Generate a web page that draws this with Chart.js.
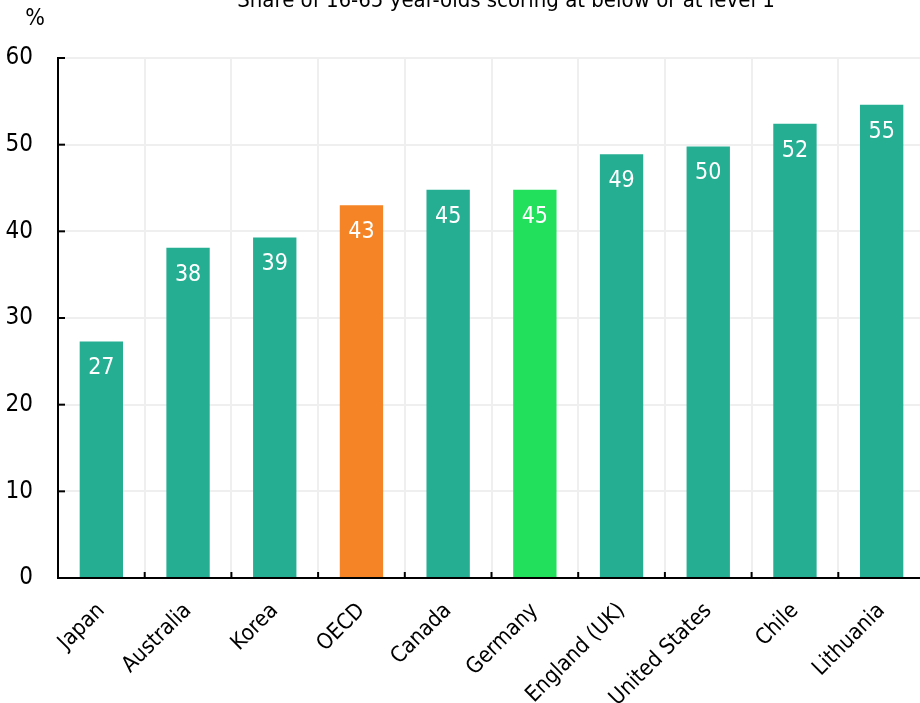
<!DOCTYPE html>
<html>
<head>
<meta charset="utf-8">
<script src="https://cdn.jsdelivr.net/npm/chart.js@4"></script>
<style>
  html, body { margin: 0; padding: 0; background: #ffffff; }
  #wrap { position: relative; width: 920px; height: 703px; overflow: hidden; }
  #c { position: absolute; left: 0; top: 0; }
</style>
</head>
<body>
<div id="wrap"><canvas id="c" width="930" height="760"></canvas></div>
<script>
const chartTitle = 'Share of 16-65 year-olds scoring at below or at level 1';
const yUnit = '%';
const categories = ['Japan', 'Australia', 'Korea', 'OECD', 'Canada', 'Germany', 'England (UK)', 'United States', 'Chile', 'Lithuania'];
const values = [27.3, 38.1, 39.3, 43.0, 44.8, 44.8, 48.9, 49.8, 52.4, 54.6];
const yTicks = [0, 10, 20, 30, 40, 50, 60];
const barColors = ['#26AE93', '#26AE93', '#26AE93', '#F58426', '#26AE93', '#22E05B', '#26AE93', '#26AE93', '#26AE93', '#26AE93'];

const FONT = "'Liberation Sans Narrow', 'Arial Narrow', 'DejaVu Sans Condensed', sans-serif";

const decorPlugin = {
  id: 'decor',
  afterDatasetsDraw(chart) {
    const ctx = chart.ctx;
    const meta = chart.getDatasetMeta(0);
    ctx.save();
    ctx.fillStyle = '#ffffff';
    ctx.font = '23px ' + FONT;
    ctx.textAlign = 'center';
    ctx.textBaseline = 'middle';
    meta.data.forEach((bar, i) => {
      ctx.fillText(String(Math.round(values[i])), bar.x, bar.y + 27);
    });
    ctx.restore();
  },
  afterDraw(chart) {
    const ctx = chart.ctx;
    const xs = chart.scales.x, ys = chart.scales.y;
    const area = chart.chartArea;
    ctx.save();
    ctx.strokeStyle = '#000000';
    ctx.lineWidth = 2;
    yTicks.forEach(v => {
      const y = ys.getPixelForValue(v);
      ctx.beginPath();
      ctx.moveTo(area.left, y);
      ctx.lineTo(area.left + 7, y);
      ctx.stroke();
    });
    const w = xs.getPixelForValue(1) - xs.getPixelForValue(0);
    for (let i = 1; i <= categories.length; i++) {
      const x = xs.getPixelForValue(i) - w / 2;
      ctx.beginPath();
      ctx.moveTo(x, area.bottom);
      ctx.lineTo(x, area.bottom - 6);
      ctx.stroke();
    }
    ctx.fillStyle = '#000000';
    ctx.font = '22px ' + FONT;
    ctx.textAlign = 'center';
    ctx.textBaseline = 'alphabetic';
    ctx.fillText(chartTitle, 506, 7);
    ctx.font = '23px ' + FONT;
    ctx.textBaseline = 'middle';
    ctx.fillText(yUnit, 35, 19);
    ctx.restore();
  }
};

new Chart(document.getElementById('c'), {
  type: 'bar',
  data: {
    labels: categories,
    datasets: [{
      data: values,
      backgroundColor: barColors,
      borderWidth: 0,
      barPercentage: 0.5,
      categoryPercentage: 1.0
    }]
  },
  options: {
    responsive: false,
    animation: false,
    devicePixelRatio: 1,
    layout: { padding: { top: 58, left: 0, right: 5, bottom: 0 } },
    plugins: {
      legend: { display: false },
      tooltip: { enabled: false },
      title: { display: false }
    },
    scales: {
      y: {
        min: 0,
        max: 60,
        afterFit(scale) { scale.width = 58; },
        afterBuildTicks(scale) { scale.ticks = yTicks.map(v => ({ value: v })); },
        ticks: {
          color: '#000000',
          font: { family: FONT, size: 24 },
          padding: 25
        },
        grid: { color: '#efefef', lineWidth: 2, drawTicks: false },
        border: { color: '#000000', width: 2 }
      },
      x: {
        offset: true,
        afterFit(scale) { scale.height = 182; },
        ticks: {
          color: '#000000',
          font: { family: FONT, size: 22 },
          maxRotation: 45,
          minRotation: 45,
          padding: 20,
          autoSkip: false
        },
        grid: { color: '#efefef', lineWidth: 2, drawTicks: false, offset: true },
        border: { color: '#000000', width: 2 }
      }
    }
  },
  plugins: [decorPlugin]
});
</script>
</body>
</html>
